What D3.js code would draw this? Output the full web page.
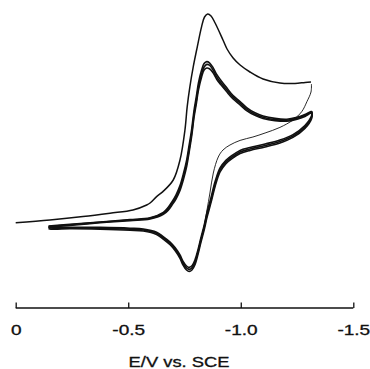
<!DOCTYPE html>
<html><head><meta charset="utf-8">
<script src="https://cdn.jsdelivr.net/npm/d3@7"></script>
<style>html,body{margin:0;padding:0;background:#fff;} svg{display:block;}</style>
</head><body>
<svg id="chart" width="370" height="369"></svg>
<script>
// ---- data (potential E in V vs SCE, current in arbitrary units) ----
const tickValues = [0, -0.5, -1.0, -1.5];
const tickLabels = ["0", "-0.5", "-1.0", "-1.5"];
const xTitle = "E/V vs. SCE";

// first scan (starts at 0 V)
const scan1FwdE = [0.000,-0.152,-0.299,-0.419,-0.521,-0.582,-0.597,-0.626,-0.654,-0.700,-0.730,-0.752,-0.762,-0.774,-0.789,-0.807,-0.826,-0.839,-0.853,-0.868,-0.886,-0.921,-0.939,-0.966,-0.997,-1.041,-1.099,-1.174,-1.241,-1.286,-1.312];
const scan1FwdI = [-0.4,1.0,2.7,4.4,6.0,8.5,9.5,12.7,15.2,21.0,31.0,46.0,57.7,67.7,77.7,87.7,97.7,102.5,104.0,103.0,99.5,91.0,86.5,82.0,78.5,75.0,71.5,69.5,69.3,69.8,70.0];
const scan1RevE = [-1.314,-1.312,-1.294,-1.271,-1.232,-1.174,-1.108,-1.054,-0.997,-0.952,-0.921,-0.900,-0.878,-0.863,-0.850,-0.837,-0.823,-0.810,-0.797,-0.783,-0.771,-0.759,-0.743,-0.730,-0.708,-0.686,-0.654,-0.626,-0.567,-0.508,-0.375,-0.241,-0.166,-0.146];
const scan1RevI = [69.0,65.0,60.2,55.2,51.0,47.3,44.5,42.5,40.8,38.5,36.0,32.5,24.5,14.5,6.0,-2.2,-8.5,-14.6,-19.7,-22.8,-23.5,-22.8,-20.3,-17.1,-13.3,-10.4,-7.5,-5.4,-3.8,-3.4,-2.9,-2.8,-2.9,-2.7];

// following cycles (between -0.15 V and -1.31 V)
const cycleFwdE = [-0.146,-0.227,-0.375,-0.508,-0.597,-0.656,-0.677,-0.694,-0.712,-0.730,-0.746,-0.760,-0.770,-0.782,-0.792,-0.803,-0.812,-0.826,-0.837,-0.849,-0.861,-0.877,-0.893,-0.912,-0.937,-0.966,-0.997,-1.026,-1.063,-1.099,-1.152,-1.205,-1.250,-1.285,-1.312];
const cycle2FwdI = [-2.0,-1.3,0.0,1.2,2.1,4.8,7.2,10.0,13.5,18.2,24.5,31.2,38.0,46.5,55.5,63.0,69.5,76.0,79.2,80.2,79.6,77.2,73.8,70.8,67.2,63.2,60.2,57.2,54.6,53.0,51.8,51.4,52.4,53.8,55.2];
const cycle3FwdI = [-2.25,-1.5,-0.15,1.0,1.85,4.35,6.5,9.25,12.5,17.0,23.0,29.5,36.0,44.5,53.5,61.0,67.5,74.0,77.5,78.8,78.4,76.0,72.6,69.6,66.2,62.3,59.4,56.4,53.9,52.4,51.2,50.9,51.9,53.3,54.8];
const cycle4FwdI = [-2.5,-1.8,-0.4,0.7,1.5,3.8,5.8,8.4,11.5,15.8,21.6,28.0,34.5,43.0,52.0,59.5,66.0,72.5,76.0,77.0,76.6,74.6,71.4,68.6,65.2,61.5,58.6,55.7,53.3,51.8,50.7,50.4,51.4,52.8,54.4];
const cycleRevE = [-1.316,-1.315,-1.285,-1.232,-1.174,-1.108,-1.041,-0.997,-0.961,-0.934,-0.908,-0.886,-0.868,-0.850,-0.837,-0.823,-0.810,-0.797,-0.783,-0.771,-0.759,-0.743,-0.730,-0.708,-0.686,-0.654,-0.626,-0.567,-0.508,-0.375,-0.241,-0.166,-0.146];
const cycle2RevI = [55.2,53.2,48.2,43.7,41.0,39.0,37.2,35.8,33.3,30.8,27.0,20.2,12.3,4.8,-1.8,-7.8,-13.8,-18.8,-21.9,-22.7,-22.0,-19.6,-16.5,-12.8,-10.0,-7.2,-5.1,-3.5,-3.1,-2.7,-2.6,-2.7,-2.5];
const cycle3RevI = [54.5,52.5,47.5,43.0,40.25,38.25,36.5,35.0,32.5,30.0,26.0,19.0,11.0,3.5,-3.0,-9.0,-15.0,-20.0,-23.0,-23.75,-23.0,-20.5,-17.35,-13.5,-10.65,-7.75,-5.65,-4.0,-3.65,-3.15,-3.0,-3.15,-2.9];
const cycle4RevI = [54.0,51.8,46.8,42.3,39.5,37.5,35.8,34.2,31.7,29.2,25.0,17.8,9.8,2.3,-4.2,-10.2,-16.2,-21.2,-24.0,-24.7,-24.0,-21.4,-18.2,-14.3,-11.4,-8.4,-6.2,-4.5,-4.1,-3.6,-3.4,-3.6,-3.3];

// ---- drawing ----
const svg = d3.select("#chart");
const x = d3.scaleLinear().domain([0, -1.5]).range([15.7, 353.3]);
const y = d3.scaleLinear().domain([0, 100]).range([222, 22]);
const ink = "#111";

const zip = (E, I) => E.map((e, k) => [e, I[k]]);
const line = d3.line().x(d => x(d[0])).y(d => y(d[1])).curve(d3.curveCatmullRom.alpha(0.5));

const cycles = [
  zip(cycleFwdE, cycle2FwdI).concat(zip(cycleRevE, cycle2RevI)),
  zip(cycleFwdE, cycle3FwdI).concat(zip(cycleRevE, cycle3RevI)),
  zip(cycleFwdE, cycle4FwdI).concat(zip(cycleRevE, cycle4RevI))
];
svg.append("g").selectAll("path").data(cycles).join("path")
  .attr("d", line).attr("fill", "none").attr("stroke", ink)
  .attr("stroke-width", 1.6).attr("stroke-linejoin", "round");

svg.append("path").attr("d", line(zip(scan1RevE, scan1RevI)))
  .attr("fill", "none").attr("stroke", ink).attr("stroke-width", 0.9);
svg.append("path").attr("d", line(zip(scan1FwdE, scan1FwdI)))
  .attr("fill", "none").attr("stroke", ink).attr("stroke-width", 1.5).attr("stroke-linejoin", "round");

// axis
const axis = d3.axisBottom(x).tickValues(tickValues)
  .tickFormat((d, k) => tickLabels[k])
  .tickSizeInner(-5.5).tickSizeOuter(0).tickPadding(17.5);
const gx = svg.append("g").attr("transform", "translate(0,308)").call(axis);
gx.select(".domain").attr("stroke", ink).attr("stroke-width", 1.3)
  .attr("d", `M${x(0)},0H${x(-1.5)}`);
gx.selectAll(".tick line").attr("stroke", ink).attr("stroke-width", 1.3);
gx.selectAll(".tick text").attr("fill", ink).attr("stroke", ink).attr("stroke-width", 0.3)
  .style("font-family", "'Liberation Sans', Arial, sans-serif").style("font-size", "14px")
  .attr("transform", "scale(1.36,1)");

svg.append("text").attr("x", 0).attr("y", 0)
  .attr("transform", "translate(179,367) scale(1.31,1)")
  .attr("text-anchor", "middle").attr("fill", ink).attr("stroke", ink).attr("stroke-width", 0.3)
  .style("font-family", "'Liberation Sans', Arial, sans-serif").style("font-size", "14px")
  .text(xTitle);
</script>
</body></html>
